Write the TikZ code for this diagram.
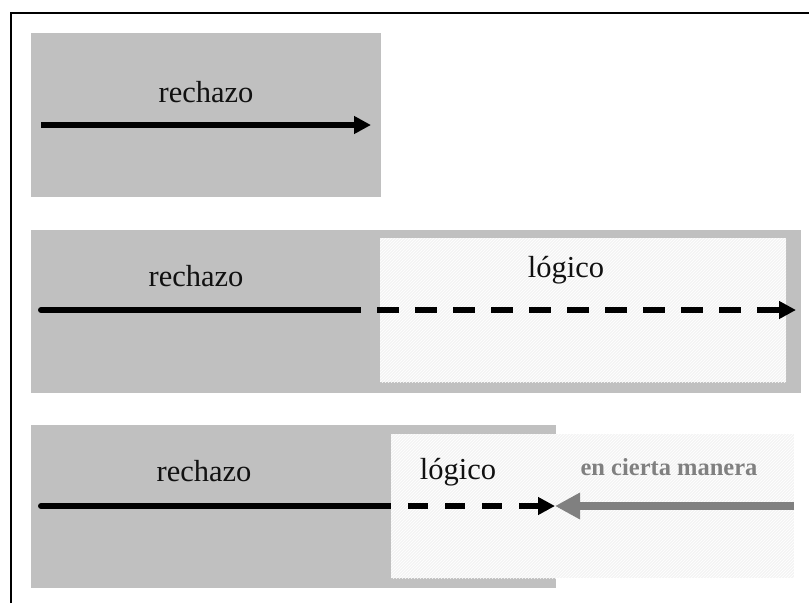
\documentclass[tikz,border=0pt]{standalone}
\usepackage{fontspec}
\setmainfont{Liberation Serif}
\usetikzlibrary{arrows.meta,patterns}
\definecolor{boxgray}{HTML}{C0C0C0}
\definecolor{paper}{HTML}{F4F4F4}
\definecolor{midgray}{HTML}{808080}
\definecolor{ink}{HTML}{111111}
\tikzset{
  graybox/.style={fill=boxgray},
  lightbox/.style={fill=paper},
  hatch/.style={pattern=north east lines, pattern color=white},
  lbl/.style={anchor=base, inner sep=0pt, text=ink, font=\fontsize{30.5}{33}\selectfont},
  lblgray/.style={anchor=base, inner sep=0pt, text=midgray, font=\fontsize{24.5}{27}\selectfont\bfseries},
  solidline/.style={line width=6pt, draw=black},
  dashline/.style={line width=6pt, draw=black, dash pattern=on 22pt off 16pt},
  blackhead/.style={-{Triangle[length=17pt,width=17pt]}},
  grayarrow/.style={line width=8.5pt, draw=midgray, -{Triangle[length=25pt,width=25pt]}},
  frameline/.style={line width=1.6pt, draw=black}
}
\begin{document}
\begin{tikzpicture}[x=1pt,y=-1pt]
\useasboundingbox (0,0) rectangle (809,603);
% frame
\coordinate (f1) at (11,603);
\coordinate (f2) at (11,13);
\coordinate (f3) at (809,13);
\draw[frameline] (f1) -- (f2) -- (f3);

% ---- panel 1
\fill[graybox] (31,33) rectangle (381,197);
\node[lbl] (r1) at (206,102) {rechazo};
\coordinate (a1s) at (41,125);
\coordinate (a1e) at (371,125);
\draw[solidline, blackhead] (a1s) -- (a1e);

% ---- panel 2
\fill[graybox] (31,230) rectangle (801,393);
\fill[lightbox] (380,238) rectangle (786,382);
\fill[hatch] (380,238) rectangle (786,382);
\node[lbl] (r2) at (196,286) {rechazo};
\node[lbl] (l2) at (566,277) {lógico};
\coordinate (a2s) at (41,310);
\coordinate (a2m) at (345,310);
\coordinate (a2d) at (339,310);
\coordinate (a2e) at (796,310);
\draw[solidline, line cap=round] (a2s) -- (a2m);
\draw[dashline, blackhead] (a2d) -- (a2e);

% ---- panel 3
\fill[graybox] (31,425) rectangle (556,588);
\fill[lightbox] (391,434) rectangle (794,578);
\fill[hatch] (391,434) rectangle (794,578);
\node[lbl] (r3) at (204,481) {rechazo};
\node[lbl] (l3) at (458,479) {lógico};
\node[lblgray] (c3) at (669,475) {en cierta manera};
\coordinate (a3s) at (41,506);
\coordinate (a3m) at (375,506);
\coordinate (a3d) at (371,506);
\coordinate (a3e) at (555,506);
\coordinate (g3s) at (794,506);
\draw[solidline, line cap=round] (a3s) -- (a3m);
\draw[dashline, dash pattern=on 20pt off 17pt, blackhead] (a3d) -- (a3e);
\draw[grayarrow] (g3s) -- (a3e);
\end{tikzpicture}
\end{document}
